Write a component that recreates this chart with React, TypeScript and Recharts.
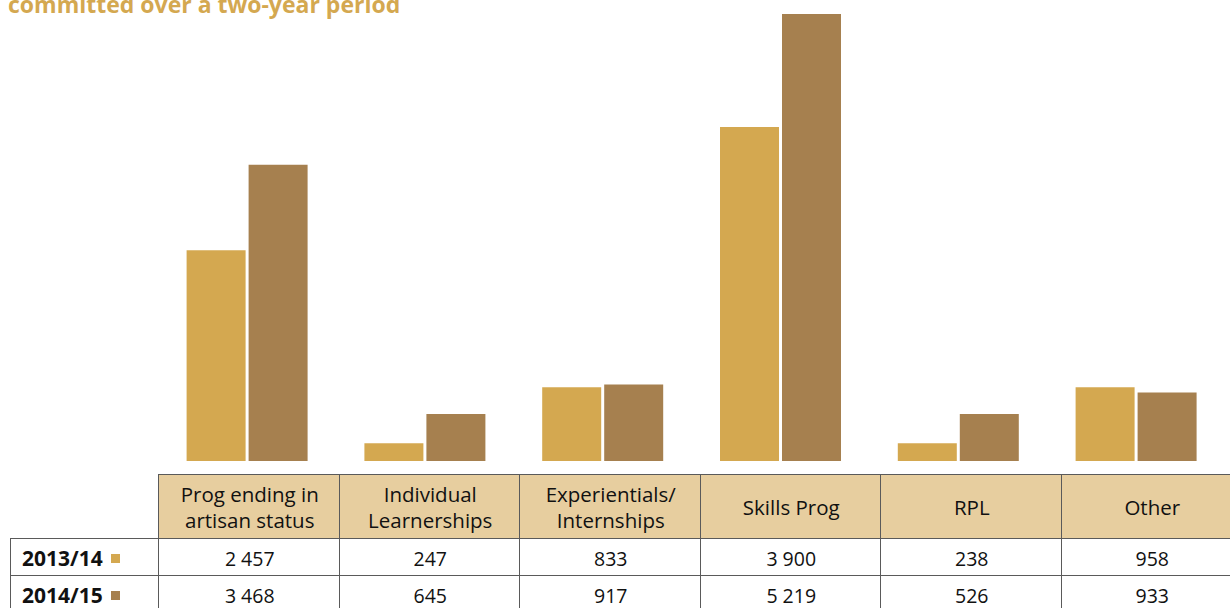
import {Bar, BarChart, XAxis, YAxis} from 'recharts';

const categories = [
  'Prog ending in artisan status',
  'Individual Learnerships',
  'Experientials/ Internships',
  'Skills Prog',
  'RPL',
  'Other',
];
const headerLines = [
  ['Prog ending in', 'artisan status'],
  ['Individual', 'Learnerships'],
  ['Experientials/', 'Internships'],
  ['Skills Prog'],
  ['RPL'],
  ['Other'],
];
const seriesLabels = ['2013/14', '2014/15'];

// numbers printed in the table
const values2013 = [2457, 247, 833, 3900, 238, 958];
const values2014 = [3468, 645, 917, 5219, 526, 933];

// bar heights as drawn in the graphic (they don't quite follow the table for the small ones)
const bars2013 = [2460, 207, 860, 3900, 207, 860];
const bars2014 = [3460, 549, 892, 5219, 549, 799];

const GOLD = '#D4A850';
const BROWN = '#A6804F';
const HEADER_BG = '#E7CE9F';
const BORDER = '#5a5a5a';

const chartData = categories.map((name, i) => ({
  name,
  y2013: bars2013[i],
  y2014: bars2014[i],
}));

const fmt = (v: number) => v.toLocaleString('en-US').replace(/,/g, ' ');

const FIRST_COL = 148;
const COL = 180.5;

function Cell({
  x,
  y,
  w,
  h,
  bg,
  children,
  align = 'center',
}: {
  x: number;
  y: number;
  w: number;
  h: number;
  bg?: string;
  children?: React.ReactNode;
  align?: 'center' | 'left';
}) {
  return (
    <div
      style={{
        position: 'absolute',
        left: x,
        top: y,
        width: w,
        height: h,
        boxSizing: 'border-box',
        background: bg ?? 'transparent',
        borderLeft: `1.5px solid ${BORDER}`,
        borderTop: `1.5px solid ${BORDER}`,
        display: 'flex',
        flexDirection: 'column',
        justifyContent: 'center',
        alignItems: align === 'center' ? 'center' : 'flex-start',
        paddingLeft: align === 'left' ? 11 : 0,
        textAlign: 'center',
      }}
    >
      {children}
    </div>
  );
}

export default function App() {
  const tableLeft = 10;
  const headerTop = 474;
  const headerH = 64;
  const rowH = 37;
  const seriesValues = [values2013, values2014];
  const seriesColors = [GOLD, BROWN];

  return (
    <div
      style={{
        position: 'absolute',
        left: 0,
        top: 0,
        width: 1230,
        height: 608,
        overflow: 'hidden',
        background: '#fff',
        fontFamily: '"Open Sans", sans-serif',
        color: '#111',
      }}
    >
      <div
        style={{
          position: 'absolute',
          left: 8,
          top: -7.5,
          fontSize: 23,
          lineHeight: 1,
          fontWeight: 700,
          color: GOLD,
          whiteSpace: 'nowrap',
        }}
      >
        committed over a two-year period
      </div>

      <div style={{position: 'absolute', left: 0, top: 0}}>
        <BarChart
          width={1230}
          height={470}
          data={chartData}
          margin={{top: 14, right: 4.6, bottom: 9, left: 158.6}}
          barSize={59}
          barGap={3}
        >
          <XAxis dataKey="name" hide />
          <YAxis hide domain={[0, 5219]} />
          <Bar dataKey="y2013" fill={GOLD} isAnimationActive={false} />
          <Bar dataKey="y2014" fill={BROWN} isAnimationActive={false} />
        </BarChart>
      </div>

      {headerLines.map((lines, i) => (
        <Cell
          key={`h${i}`}
          x={tableLeft + FIRST_COL + i * COL}
          y={headerTop}
          w={COL + 2}
          h={headerH}
          bg={HEADER_BG}
        >
          {lines.map((l) => (
            <div key={l} style={{fontSize: 20.5, lineHeight: '26px', whiteSpace: 'nowrap'}}>
              {l}
            </div>
          ))}
        </Cell>
      ))}

      {seriesLabels.map((label, r) => (
        <div key={label}>
          <Cell
            x={tableLeft}
            y={headerTop + headerH + r * rowH}
            w={FIRST_COL + 2}
            h={rowH + 2}
            align="left"
          >
            <div style={{display: 'flex', alignItems: 'center', fontSize: 21, fontWeight: 700}}>
              {label}
              <span
                style={{
                  display: 'inline-block',
                  width: 9,
                  height: 9,
                  marginLeft: 8,
                  background: seriesColors[r],
                }}
              />
            </div>
          </Cell>
          {seriesValues[r].map((v, i) => (
            <Cell
              key={`c${r}-${i}`}
              x={tableLeft + FIRST_COL + i * COL}
              y={headerTop + headerH + r * rowH}
              w={COL + 2}
              h={rowH + 2}
            >
              <span style={{fontSize: 19.5}}>{fmt(v)}</span>
            </Cell>
          ))}
        </div>
      ))}
    </div>
  );
}
